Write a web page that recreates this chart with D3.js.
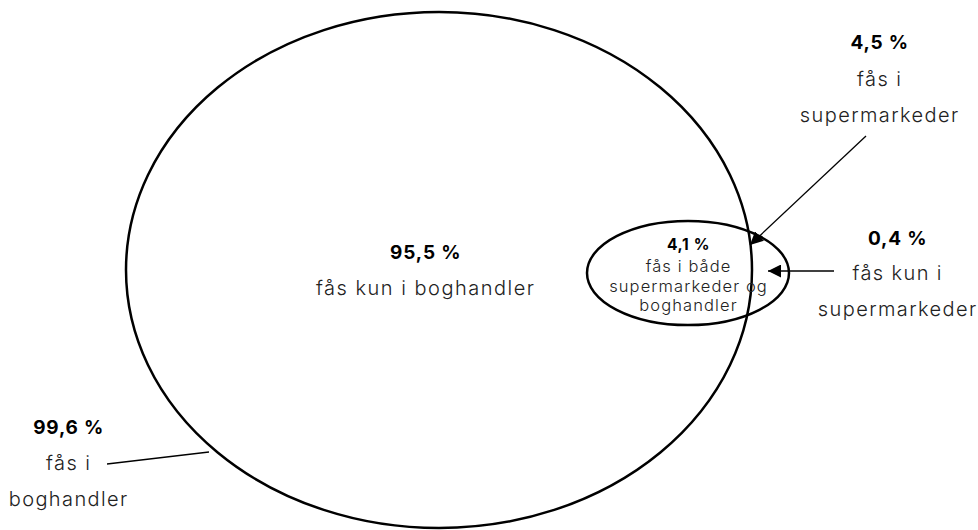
<!DOCTYPE html>
<html><head><meta charset="utf-8">
<script src="https://cdn.jsdelivr.net/npm/d3@7"></script>
<style>body{margin:0;background:#fff}svg{display:block}</style>
</head><body>
<script>
// Data
const sets = ["boghandler", "supermarkeder"];
const shares = [99.6, 4.5];           // total share per set
const onlyShares = [95.5, 0.4];        // share only in set
const bothShare = 4.1;

const labels = [
  {id:"onlyBog", value:"95,5 %", lines:["fås kun i boghandler"]},
  {id:"both", value:"4,1 %", lines:["fås i både","supermarkeder og","boghandler"]},
  {id:"super", value:"4,5 %", lines:["fås i","supermarkeder"]},
  {id:"onlySuper", value:"0,4 %", lines:["fås kun i","supermarkeder"]},
  {id:"bog", value:"99,6 %", lines:["fås i","boghandler"]}
];

const W=978,H=530;
const svg=d3.select("body").append("svg").attr("width",W).attr("height",H);
const defs=svg.append("defs");
defs.append("marker").attr("id","arr").attr("viewBox","0 0 10 10").attr("refX",10).attr("refY",5)
  .attr("markerWidth",13).attr("markerHeight",13).attr("markerUnits","userSpaceOnUse").attr("orient","auto")
  .append("path").attr("d","M0,0L10,5L0,10Z").attr("fill","#000");

// layout
const ellipses=[
  {cx:439,cy:270,rx:313,ry:258},
  {cx:688,cy:273,rx:101,ry:52}
];
svg.selectAll("ellipse").data(ellipses).join("ellipse")
  .attr("cx",d=>d.cx).attr("cy",d=>d.cy).attr("rx",d=>d.rx).attr("ry",d=>d.ry)
  .attr("fill","none").attr("stroke","#000").attr("stroke-width",2.5);

// leader lines
const leaders=[
  {x1:866,y1:136,x2:750,y2:245,arrow:true},
  {x1:834,y1:271,x2:768,y2:271,arrow:true},
  {x1:107,y1:464,x2:209,y2:452,arrow:false}
];
svg.selectAll("line.lead").data(leaders).join("line").attr("class","lead")
  .attr("x1",d=>d.x1).attr("y1",d=>d.y1).attr("x2",d=>d.x2).attr("y2",d=>d.y2)
  .attr("stroke","#000").attr("stroke-width",1.3)
  .attr("marker-end",d=>d.arrow?"url(#arr)":null);

const pos={
  onlyBog:{x:425,y:259,size:20,ls:1.5,gap:36,first:36},
  both:{x:688,y:250,size:16.5,ls:1.1,gap:19.5,first:22},
  super:{x:879,y:49,size:20,ls:1.4,gap:36,first:37},
  onlySuper:{x:897,y:245,size:20,ls:1.4,gap:36,first:35},
  bog:{x:68,y:434,size:20,ls:1.4,gap:36,first:36}
};
const font="'Inter','Noto Sans',sans-serif";
labels.forEach(l=>{
  const p=pos[l.id];
  const g=svg.append("g");
  g.append("text").attr("x",p.x+p.ls/2).attr("y",p.y).attr("text-anchor","middle")
    .attr("font-family",font).attr("font-weight","bold").attr("font-size",p.size-1)
    .attr("letter-spacing",p.ls*0.6).attr("fill","#000").text(l.value);
  l.lines.forEach((t,i)=>{
    g.append("text").attr("x",p.x+p.ls/2).attr("y",p.y+p.first+i*p.gap).attr("text-anchor","middle")
      .attr("font-family",font).attr("font-weight","300").attr("font-size",p.size)
      .attr("letter-spacing",p.ls).attr("fill","#222").text(t);
  });
});
</script>
</body></html>
